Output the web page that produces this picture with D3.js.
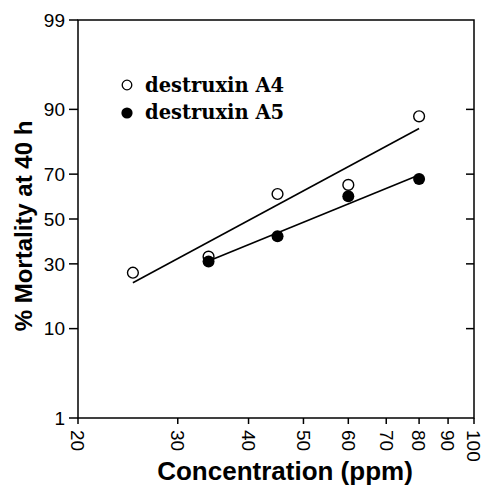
<!DOCTYPE html>
<html>
<head>
<meta charset="utf-8">
<script src="https://cdn.jsdelivr.net/npm/d3@7"></script>
<style>
  body { margin: 0; background: #fff; }
  text { fill: #000; }
</style>
</head>
<body>
<script>
// data
const concA4 = [25, 34, 45, 60, 80]
const mortA4 = [26.5, 33, 61.5, 65.5, 88.5]
const concA5 = [34, 45, 60, 80]
const mortA5 = [31, 42, 60.5, 68]
const xTicks = [20, 30, 40, 50, 60, 70, 80, 90, 100]
const yTicks = [1, 10, 30, 50, 70, 90, 99]
const seriesNames = ["destruxin A4", "destruxin A5"]

const W = 486, H = 487
const pLeft = 78, pRight = 474, pTop = 20, pBottom = 418

// inverse normal cdf (Acklam)
function probit (p) {
  const a = [-39.6968302866538, 220.946098424521, -275.928510446969, 138.357751867269, -30.6647980661472, 2.50662827745924]
  const b = [-54.4760987982241, 161.585836858041, -155.698979859887, 66.8013118877197, -13.2806815528857]
  const c = [-0.00778489400243029, -0.322396458041136, -2.40075827716184, -2.54973253934373, 4.37466414146497, 2.93816398269878]
  const d = [0.00778469570904146, 0.32246712907004, 2.445134137143, 3.75440866190742]
  const pl = 0.02425
  let q, r
  if (p < pl) {
    q = Math.sqrt(-2 * Math.log(p))
    return (((((c[0]*q+c[1])*q+c[2])*q+c[3])*q+c[4])*q+c[5]) / ((((d[0]*q+d[1])*q+d[2])*q+d[3])*q+1)
  }
  if (p > 1 - pl) {
    q = Math.sqrt(-2 * Math.log(1 - p))
    return -(((((c[0]*q+c[1])*q+c[2])*q+c[3])*q+c[4])*q+c[5]) / ((((d[0]*q+d[1])*q+d[2])*q+d[3])*q+1)
  }
  q = p - 0.5
  r = q * q
  return (((((a[0]*r+a[1])*r+a[2])*r+a[3])*r+a[4])*r+a[5])*q / (((((b[0]*r+b[1])*r+b[2])*r+b[3])*r+b[4])*r+1)
}

const x = d3.scaleLog().domain([20, 100]).range([pLeft, pRight])
const yz = d3.scaleLinear().domain([probit(0.01), probit(0.99)]).range([pBottom, pTop])
const y = v => yz(probit(v / 100))

// least squares in probit / log space
function fit (xs, ys) {
  const lx = xs.map(Math.log10), z = ys.map(v => probit(v / 100))
  const mx = d3.mean(lx), mz = d3.mean(z)
  let sxy = 0, sxx = 0
  for (let i = 0; i < lx.length; i++) {
    sxy += (lx[i] - mx) * (z[i] - mz)
    sxx += (lx[i] - mx) * (lx[i] - mx)
  }
  const k = sxy / sxx
  const x0 = d3.min(xs), x1 = d3.max(xs)
  return [[x0, mz + k * (Math.log10(x0) - mx)], [x1, mz + k * (Math.log10(x1) - mx)]]
}

const svg = d3.select("body").append("svg")
  .attr("width", W)
  .attr("height", H)

svg.append("rect")
  .attr("x", pLeft).attr("y", pTop)
  .attr("width", pRight - pLeft).attr("height", pBottom - pTop)
  .attr("fill", "none").attr("stroke", "#000").attr("stroke-width", 1.5)

// left axis
const gy = svg.append("g")
  .attr("transform", "translate(" + pLeft + ",0)")
gy.selectAll("line").data(yTicks).enter().append("line")
  .attr("x1", -9).attr("x2", 0)
  .attr("y1", d => y(d)).attr("y2", d => y(d))
  .attr("stroke", "#000").attr("stroke-width", 1.5)
gy.selectAll("text").data(yTicks).enter().append("text")
  .attr("x", -13).attr("y", d => y(d)).attr("dy", "0.35em")
  .attr("text-anchor", "end")
  .style("font", "19px 'Liberation Sans', Arial, sans-serif")
  .text(d => d)

// right axis, inner ticks
svg.append("g").selectAll("line").data(yTicks.filter(d => d > 1 && d < 99)).enter().append("line")
  .attr("x1", pRight - 8).attr("x2", pRight)
  .attr("y1", d => y(d)).attr("y2", d => y(d))
  .attr("stroke", "#000").attr("stroke-width", 1.5)

// bottom axis
const gx = svg.append("g")
  .attr("transform", "translate(0," + pBottom + ")")
gx.selectAll("line").data(xTicks).enter().append("line")
  .attr("x1", d => x(d)).attr("x2", d => x(d))
  .attr("y1", 0).attr("y2", 6)
  .attr("stroke", "#000").attr("stroke-width", 1.5)
gx.selectAll("text").data(xTicks).enter().append("text")
  .attr("transform", d => "translate(" + x(d) + ",12) rotate(90)")
  .attr("dy", "0.35em")
  .style("font", "19px 'Liberation Sans', Arial, sans-serif")
  .text(d => d)

// axis titles
svg.append("text")
  .attr("transform", "translate(32," + 226 + ") rotate(-90)")
  .attr("text-anchor", "middle")
  .style("font", "bold 24px 'Liberation Sans', Arial, sans-serif")
  .text("% Mortality at 40 h")
svg.append("text")
  .attr("x", 285).attr("y", 480)
  .attr("text-anchor", "middle")
  .style("font", "bold 26px 'Liberation Sans', Arial, sans-serif")
  .text("Concentration (ppm)")

// fitted lines
const line = d3.line().x(d => x(d[0])).y(d => yz(d[1]))
svg.append("path").attr("d", line(fit(concA4, mortA4)))
  .attr("fill", "none").attr("stroke", "#000").attr("stroke-width", 1.6)
svg.append("path").attr("d", line(fit(concA5, mortA5)))
  .attr("fill", "none").attr("stroke", "#000").attr("stroke-width", 1.6)

// points
svg.append("g").selectAll("circle").data(d3.zip(concA4, mortA4)).enter().append("circle")
  .attr("cx", d => x(d[0])).attr("cy", d => y(d[1])).attr("r", 5.4)
  .attr("fill", "#fff").attr("stroke", "#000").attr("stroke-width", 1.4)
svg.append("g").selectAll("circle").data(d3.zip(concA5, mortA5)).enter().append("circle")
  .attr("cx", d => x(d[0])).attr("cy", d => y(d[1])).attr("r", 6)
  .attr("fill", "#000")

// legend
const lg = svg.append("g")
lg.append("circle").attr("cx", 127).attr("cy", 85).attr("r", 4.8)
  .attr("fill", "#fff").attr("stroke", "#000").attr("stroke-width", 1.3)
lg.append("circle").attr("cx", 127).attr("cy", 113).attr("r", 5.6)
  .attr("fill", "#000")
lg.selectAll("text").data(seriesNames).enter().append("text")
  .attr("x", 145).attr("y", (d, i) => 92 + i * 27)
  .style("font", "bold 19.5px 'DejaVu Serif', 'Liberation Serif', serif")
  .text(d => d)
</script>
</body>
</html>
